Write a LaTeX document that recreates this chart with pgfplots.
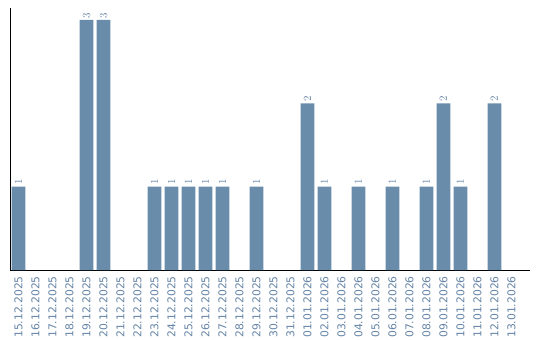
\documentclass[border=0pt]{standalone}
\usepackage{fontspec}
\setmainfont{DejaVu Sans}
\usepackage{pgfplots}
\pgfplotsset{compat=1.18}
\definecolor{barc}{HTML}{6A8CAB}
\definecolor{labc}{HTML}{6584A6}
\begin{document}
\begin{tikzpicture}
\begin{axis}[
  scale only axis, width=520bp, height=262bp,
  xmin=-0.5, xmax=30.09, ymin=0, ymax=3.144,
  axis lines*=left,
  axis line style={black, line width=0.9bp},
  ytick=\empty,
  xtick={0,...,29},
  xticklabels={15.12.2025,16.12.2025,17.12.2025,18.12.2025,19.12.2025,20.12.2025,21.12.2025,22.12.2025,23.12.2025,24.12.2025,25.12.2025,26.12.2025,27.12.2025,28.12.2025,29.12.2025,30.12.2025,31.12.2025,01.01.2026,02.01.2026,03.01.2026,04.01.2026,05.01.2026,06.01.2026,07.01.2026,08.01.2026,09.01.2026,10.01.2026,11.01.2026,12.01.2026,13.01.2026},
  major tick length=0pt,
  xticklabel style={rotate=90, anchor=east, font=\fontsize{10.8}{12}\selectfont, text=labc, inner sep=0pt, xshift=-6bp},
  ybar, bar width=13.6bp,
  nodes near coords,
  every node near coord/.append style={rotate=90, anchor=west, font=\fontsize{10.8}{12}\selectfont, text=labc, inner sep=1.5bp},
  clip=false,
]
\addplot[fill=barc, draw=none] coordinates {
(0,1) (4,3) (5,3) (8,1) (9,1) (10,1) (11,1) (12,1) (14,1) (17,2) (18,1) (20,1) (22,1) (24,1) (25,2) (26,1) (28,2)
};
\end{axis}
\path[use as bounding box] (-10bp,-70bp) rectangle (530bp,270bp);
\end{tikzpicture}
\end{document}
